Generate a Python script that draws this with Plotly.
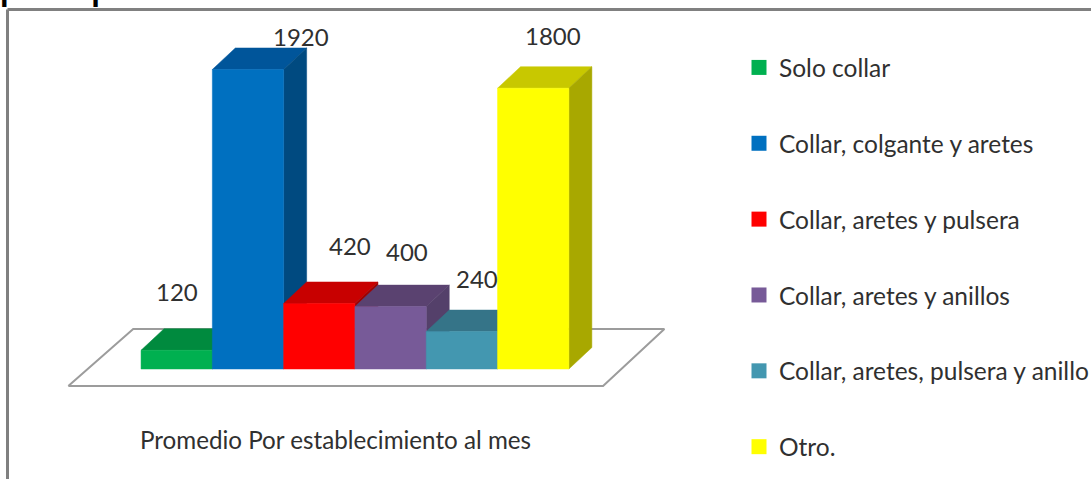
import plotly.graph_objects as go

categories = ["Solo collar", "Collar, colgante y aretes", "Collar, aretes y pulsera",
              "Collar, aretes y anillos", "Collar, aretes, pulsera y anillo", "Otro."]
values = [120, 1920, 420, 400, 240, 1800]
axis_label = "Promedio Por establecimiento al mes"
clipped_heading = "po de prenda"

front_colors = ["#00B050", "#0070C0", "#FF0000", "#775A98", "#4397B0", "#FFFF00"]
top_colors = ["#008A3E", "#00559A", "#C80000", "#5A4270", "#357488", "#C8C800"]
side_colors = ["#00703A", "#004A80", "#A00000", "#54406A", "#2C6070", "#A8A800"]
label_shift = [(0, 59), (53, 33), (31, 58), (16, 55), (15, 53), (20, 53)]

W, H = 1091, 479
CAT_PX = 71.3
VAL_PX = 0.156
X0_PX = 176.7
Y0_PX = 369
DX = 23 / CAT_PX
DY = 21.5 / VAL_PX

x_range = [(0 - X0_PX) / CAT_PX, (W - X0_PX) / CAT_PX]
y_range = [(Y0_PX - H) / VAL_PX, Y0_PX / VAL_PX]

fig = go.Figure()

# floor plate, expressed in axis units relative to the bar row
floor_x = [-1.52, -0.61, 6.84, 5.98, -1.52]
floor_y = [-109, 256, 256, -109, -109]
fig.add_trace(go.Scatter(x=floor_x, y=floor_y, mode="lines", fill="toself", fillcolor="#FFFFFF",
                         line=dict(color="#9C9C9C", width=2), showlegend=False, hoverinfo="skip"))

for i, (c, v) in enumerate(zip(categories, values)):
    l, r = i - 0.5, i + 0.5
    faces = [
        ([l, r, r + DX, l + DX, l], [v, v, v + DY, v + DY, v], top_colors[i]),
        ([r, r + DX, r + DX, r, r], [0, DY, v + DY, v, 0], side_colors[i]),
        ([l, r, r, l, l], [0, 0, v, v, 0], front_colors[i]),
    ]
    for fx, fy, col in faces:
        fig.add_trace(go.Scatter(x=fx, y=fy, mode="lines", fill="toself", fillcolor=col,
                                 line=dict(color=col, width=0.5), showlegend=False,
                                 hoverinfo="skip"))

for c, col in zip(categories, front_colors):
    fig.add_trace(go.Scatter(x=[None], y=[None], mode="markers", name=c, legendgroup=c,
                             marker=dict(symbol="square", size=15, color=col)))

for i, v in enumerate(values):
    fig.add_annotation(x=i, y=v, text=str(v), showarrow=False, xshift=label_shift[i][0],
                       yshift=label_shift[i][1], font=dict(family="Lato", size=24, color="#303030"))

fig.add_annotation(x=2.23, y=-450, text=axis_label, showarrow=False,
                   font=dict(family="Lato", size=24.2, color="#303030"))
fig.add_annotation(xref="paper", yref="paper", x=-0.001, y=1 - 8 / H, xanchor="left", yanchor="bottom",
                   text=f"<b>{clipped_heading}</b>", showarrow=False, borderpad=0,
                   font=dict(family="Liberation Sans", size=31, color="#000000"))

fig.add_shape(type="line", xref="paper", yref="paper", x0=7.5 / W, x1=7.5 / W, y0=0, y1=1 - 9.5 / H,
              line=dict(color="#808080", width=3))
fig.add_shape(type="line", xref="paper", yref="paper", x0=7.5 / W, x1=1, y0=1 - 9.5 / H, y1=1 - 9.5 / H,
              line=dict(color="#808080", width=3))

fig.update_layout(
    width=W, height=H, margin=dict(l=0, r=0, t=0, b=0, autoexpand=False),
    paper_bgcolor="#FFFFFF", plot_bgcolor="#FFFFFF",
    xaxis=dict(range=x_range, visible=False, fixedrange=True),
    yaxis=dict(range=y_range, visible=False, fixedrange=True),
    legend=dict(x=739 / W, y=1 - 45 / H, xanchor="left", yanchor="top", tracegroupgap=41,
                bgcolor="rgba(0,0,0,0)", font=dict(family="Lato", size=24.5, color="#303030"),
                itemwidth=30),
)
fig.write_html("out.html", config={"displayModeBar": False},
               post_script="document.body.style.margin='0';document.body.style.overflow='hidden';")
